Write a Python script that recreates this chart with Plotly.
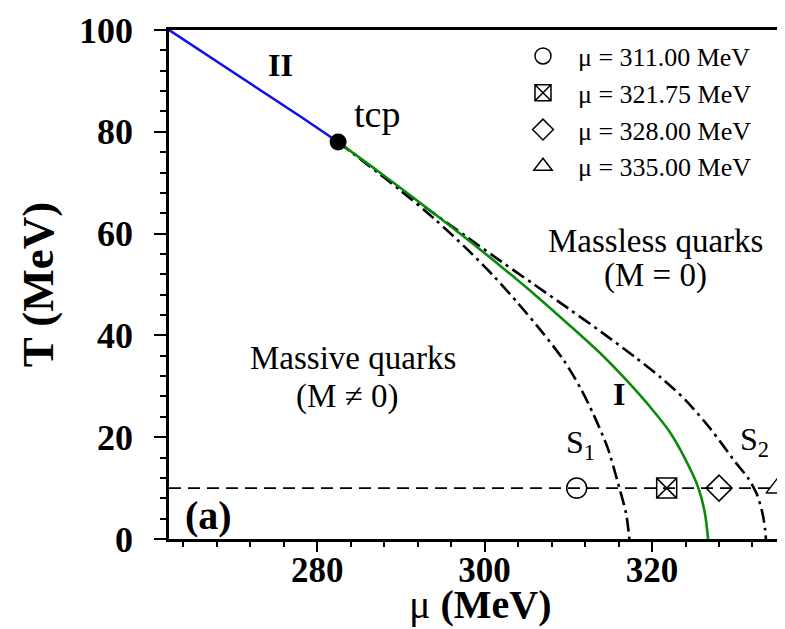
import plotly.graph_objects as go

# ---------------- data ----------------
mu_blue = [262.3, 266, 270, 274, 278, 282.5]
T_blue = [100, 96.0, 91.7, 87.4, 83.0, 78.0]

mu_green = [282.5, 286, 290, 294, 298, 302, 306, 310, 314, 317, 320, 322, 324, 325.5, 326.3, 326.7]
T_green = [78, 73.8, 68.9, 63.9, 58.8, 53.5, 48.0, 42.2, 36.2, 31.1, 25.5, 21.3, 15.6, 10.2, 5.2, 0]

mu_s1 = [282.5, 286, 290, 294, 298, 301, 304, 307, 309.5, 311.5, 313, 314.7, 316.1, 316.9, 317.3]
T_s1 = [78, 73.6, 68.4, 62.9, 56.8, 51.8, 46.3, 40.4, 35.0, 29.5, 24.5, 17.9, 10.0, 5.0, 0]

mu_s2 = [282.5, 286, 290, 294, 298, 302, 306, 310, 314, 318, 321, 324, 327, 330, 331.5, 332.5, 333.2, 333.5, 333.6]
T_s2 = [78, 73.6, 68.7, 63.9, 59.2, 54.5, 49.9, 45.3, 40.6, 35.7, 31.8, 27.3, 21.6, 15.0, 11.9, 8.9, 5.0, 2.0, 0]

mu_tcp = [282.5]
T_tcp = [78.0]

mu_line = [262.3, 336.6]
T_line = [10, 10]

mu_marks = [311.00, 321.75, 328.00, 335.00]
T_marks = [10, 10, 10, 10]
mark_names = ["μ = 311.00 MeV", "μ = 321.75 MeV", "μ = 328.00 MeV", "μ = 335.00 MeV"]
mark_symbols = ["circle-open", "square-x-open", "diamond-open", "triangle-up-open"]

x_range = [262.3, 336.6]
y_range = [0, 100]

SERIF = "Liberation Serif"
DASHDOT = "14px,5px,3px,5px"

fig = go.Figure()

fig.add_trace(go.Scatter(x=mu_line, y=T_line, mode="lines",
                         line=dict(color="black", width=1.8, dash="12px,7px"),
                         showlegend=False, hoverinfo="skip"))
fig.add_trace(go.Scatter(x=mu_s1, y=T_s1, mode="lines", line_shape="spline",
                         line=dict(color="black", width=2.6, dash=DASHDOT, smoothing=0.8),
                         showlegend=False))
fig.add_trace(go.Scatter(x=mu_s2, y=T_s2, mode="lines", line_shape="spline",
                         line=dict(color="black", width=2.6, dash=DASHDOT, smoothing=0.8),
                         showlegend=False))
fig.add_trace(go.Scatter(x=mu_green, y=T_green, mode="lines", line_shape="spline",
                         line=dict(color="#0b8a0b", width=2.6, smoothing=0.8),
                         showlegend=False))
fig.add_trace(go.Scatter(x=mu_blue, y=T_blue, mode="lines",
                         line=dict(color="#1010ee", width=2.6), showlegend=False))
fig.add_trace(go.Scatter(x=mu_tcp, y=T_tcp, mode="markers",
                         marker=dict(color="black", size=17), showlegend=False))

for xm, ym, nm, sym in zip(mu_marks, T_marks, mark_names, mark_symbols):
    fig.add_trace(go.Scatter(x=[xm], y=[ym], mode="markers", name=nm,
                             marker=dict(symbol=sym, size=20, color="black",
                                         line=dict(color="black", width=1.5))))

ann = []
def txt(x, y, s, size, bold=False, xref="x", yref="y", angle=0):
    ann.append(dict(x=x, y=y, xref=xref, yref=yref, text=s, showarrow=False,
                    xanchor="center", yanchor="middle", textangle=angle,
                    font=dict(family=SERIF, size=size, color="black",
                              weight="bold" if bold else "normal")))

txt(275.6, 93.1, "II", 32, True)
txt(287.2, 83.4, "tcp", 38)
txt(320.4, 58.6, "Massless quarks", 33)
txt(320.4, 51.8, "(M = 0)", 33)
txt(284.3, 35.5, "Massive quarks", 33)
txt(283.6, 28.0, "(M ≠ 0)", 33)
txt(316.0, 28.4, "I", 32, True)
txt(311.4, 18.5, "S<sub>1</sub>", 32)
txt(332.2, 19.2, "S<sub>2</sub>", 32)
txt(267.0, 4.6, "(a)", 40, True)
# x-axis title
txt(0.5, -0.128, "μ <b>(MeV)</b>", 40, xref="paper", yref="paper")
fig.update_layout(annotations=ann)

fig.update_layout(
    width=785, height=629,
    margin=dict(l=161, r=2, t=22, b=98),
    plot_bgcolor="white", paper_bgcolor="white",
    font=dict(family=SERIF, color="black"),
    legend=dict(x=0.545, y=0.995, xanchor="left", yanchor="top",
                bgcolor="rgba(0,0,0,0)", borderwidth=0,
                font=dict(family=SERIF, size=26, color="black"),
                itemwidth=60, tracegroupgap=0),
    xaxis=dict(range=x_range, showline=True, linecolor="black", linewidth=2.5,
               mirror=True, showgrid=False, zeroline=False,
               ticks="outside", tickwidth=2, ticklen=10, tickcolor="black",
               dtick=20, tick0=0,
               minor=dict(ticks="outside", ticklen=5, tickwidth=1.5, dtick=4, tick0=0,
                          tickcolor="black", showgrid=False),
               tickfont=dict(family=SERIF, size=35, weight="bold", color="black"),
               ticklabelstandoff=-12),
    yaxis=dict(range=y_range, showline=True, linecolor="black", linewidth=2.5,
               mirror=False, showgrid=False, zeroline=False,
               ticks="outside", tickwidth=2, ticklen=12, tickcolor="black",
               dtick=20, tick0=0,
               minor=dict(ticks="outside", ticklen=6, tickwidth=1.5, dtick=4, tick0=0,
                          tickcolor="black", showgrid=False),
               tickfont=dict(family=SERIF, size=36, weight="bold", color="black"),
               ticklabelstandoff=14,
               title=dict(text="T (MeV)", standoff=12,
                          font=dict(family=SERIF, size=45, weight="bold", color="black"))),
)

fig.write_html("out.html")
